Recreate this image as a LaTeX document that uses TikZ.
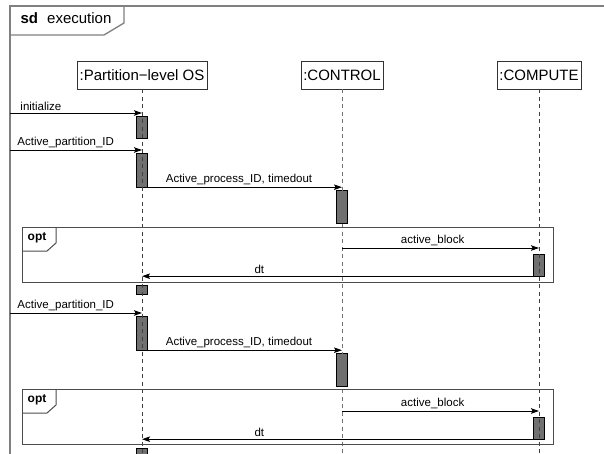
\documentclass[tikz,border=0pt]{standalone}
\usepackage{fontspec}
\setmainfont{Liberation Sans}
\usetikzlibrary{arrows.meta, positioning, calc}
\definecolor{framegray}{RGB}{128,128,128}
\definecolor{actgray}{RGB}{112,112,112}

\begin{document}
\begin{tikzpicture}[x=1pt, y=-1pt,
  head/.style={draw=black!80, fill=white, font=\fontsize{15}{17}\selectfont, inner xsep=2.5pt, inner ysep=0pt, minimum height=28pt},
  life/.style={dash pattern=on 4pt off 3.5pt, black!75},
  act/.style={draw=black, fill=actgray, minimum width=11pt, inner sep=0pt},
  msg/.style={-{Stealth[length=8pt, width=5.5pt, inset=1.5pt]}, black, line width=0.9pt},
  lbl/.style={font=\fontsize{11.5}{13}\selectfont, inner sep=1pt},
  frm/.style={framegray, line width=1.3pt},
  optfrm/.style={black!70, line width=1pt}]

  \clip (0,0) rectangle (604,453);
  \coordinate (bot) at (0,460);

  % Frame sd
  \draw[frm] (604,6) -- (10,6) -- (10,460);
  \draw[frm] (124,6) -- (124,23) -- (104,35) -- (10,35);
  \node[anchor=west, font=\fontsize{15}{17}\selectfont] (sdtag) at (17,18) {\textbf{sd}\,\, execution};

  % Lifeline heads
  \node[head] (os) at (142,75) {:Partition−level OS};
  \node[head] (ctl) at (342,75) {:CONTROL};
  \node[head] (cmp) at (539,75) {:COMPUTE};

  % Activations
  \node[act, minimum height=22pt] (osA) at (142,127) {};
  \node[act, minimum height=34pt] (osB) at (142,170) {};
  \node[act, minimum height=9pt] (osC) at (142,289.5) {};
  \node[act, minimum height=34pt] (osD) at (142,333) {};
  \node[act, minimum height=14pt] (osE) at (142,455) {};
  \node[act, minimum height=33pt] (ctlA) at (342,206.5) {};
  \node[act, minimum height=33pt] (ctlB) at (342,369.5) {};
  \node[act, minimum height=22pt] (cmpA) at (539,265) {};
  \node[act, minimum height=22pt] (cmpB) at (539,428) {};

  % Lifelines
  \draw[life] (os.south) -- (os |- bot);
  \draw[life, black!55] (ctl.south) -- (ctl |- bot);
  \draw[life] (cmp.south) -- (cmp |- bot);

  % Opt frames
  \draw[optfrm] (22,227) rectangle (553,282);
  \draw[optfrm] (56,227) -- (56,243) -- (47,251) -- (22,251);
  \node[font=\fontsize{12}{14}\selectfont\bfseries] (opt1) at (37,238) {opt};
  \draw[optfrm] (22,389) rectangle (553,444);
  \draw[optfrm] (56,389) -- (56,405) -- (47,413) -- (22,413);
  \node[font=\fontsize{12}{14}\selectfont\bfseries] (opt2) at (37,400) {opt};

  % Messages, first round
  \coordinate (in1) at (10,113);
  \draw[msg] (in1) -- (in1 -| os) node[lbl, pos=0, anchor=south west, xshift=9pt, yshift=1pt] {initialize};
  \coordinate (ap1) at (10,150);
  \draw[msg] (ap1) -- (ap1 -| os) node[lbl, pos=0, anchor=south west, xshift=6pt, yshift=1pt] {Active\_partition\_ID};
  \draw[msg] (osB.south east) -- (osB.south east -| ctl) node[lbl, pos=0.47, above=1pt] {Active\_process\_ID, timedout};
  \coordinate (ab1) at (342,248);
  \draw[msg] (ab1) -- (ab1 -| cmp) node[lbl, pos=0.46, above=1pt] {active\_block};
  \draw[msg] (cmpA.south west) -- (cmpA.south west -| os) node[lbl, pos=0.7, above=1pt] {dt};

  % Messages, second round
  \coordinate (ap2) at (10,313);
  \draw[msg] (ap2) -- (ap2 -| os) node[lbl, pos=0, anchor=south west, xshift=6pt, yshift=1pt] {Active\_partition\_ID};
  \draw[msg] (osD.south east) -- (osD.south east -| ctl) node[lbl, pos=0.47, above=1pt] {Active\_process\_ID, timedout};
  \coordinate (ab2) at (342,411);
  \draw[msg] (ab2) -- (ab2 -| cmp) node[lbl, pos=0.46, above=1pt] {active\_block};
  \draw[msg] (cmpB.south west) -- (cmpB.south west -| os) node[lbl, pos=0.7, above=1pt] {dt};
\end{tikzpicture}
\end{document}
